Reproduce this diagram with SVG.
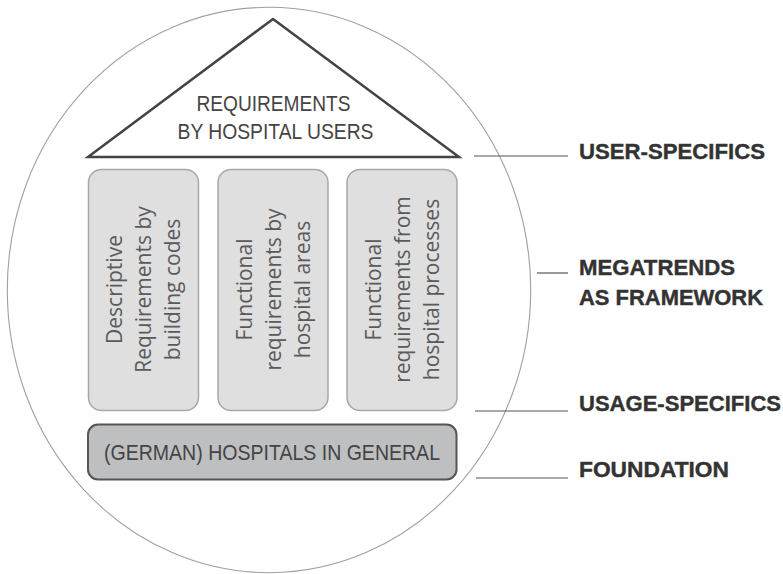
<svg xmlns="http://www.w3.org/2000/svg" width="783" height="574" viewBox="0 0 783 574">
<style>
.roof{fill:#fff;stroke:#444;stroke-width:2.5;stroke-linejoin:miter}
.col{fill:#dfdfe0;stroke:#a8a8a8;stroke-width:1.5}
.base{fill:#bebfc1;stroke:#555;stroke-width:2}
.t{font-family:"Liberation Sans",Arial,sans-serif;fill:#444;font-size:22px}
.v{font-family:"Open Sans","Noto Sans",sans-serif;font-weight:400;fill:#5a5a5a;font-size:21px;text-anchor:middle}
.lab{font-family:"Liberation Sans",Arial,sans-serif;font-weight:bold;fill:#333;font-size:21.5px;stroke:#333;stroke-width:0.4}
.ln{stroke:#555;stroke-width:1.2}
</style>
<ellipse id="frame" cx="269" cy="290" rx="261.7" ry="282.7" fill="none" stroke="#a0a0a0" stroke-width="1.1"/>
<g id="roof">
<polygon class="roof" points="273,19 459,157 88,157"/>
<text class="t" x="196.5" y="110.5" textLength="154" lengthAdjust="spacingAndGlyphs">REQUIREMENTS</text>
<text class="t" x="177.5" y="139" textLength="196" lengthAdjust="spacingAndGlyphs">BY HOSPITAL USERS</text>
</g>
<g id="pillar1">
<rect class="col" x="88.5" y="169.5" width="110" height="241" rx="13"/>
<text class="v" transform="translate(122,289.5) rotate(-90)">Descriptive</text>
<text class="v" transform="translate(151,289.5) rotate(-90)">Requirements by</text>
<text class="v" transform="translate(180,289.5) rotate(-90)">building codes</text>
</g>
<g id="pillar2">
<rect class="col" x="218" y="169.5" width="110" height="241" rx="13"/>
<text class="v" transform="translate(252,289.5) rotate(-90)">Functional</text>
<text class="v" transform="translate(281,289.5) rotate(-90)">requirements by</text>
<text class="v" transform="translate(310,289.5) rotate(-90)">hospital areas</text>
</g>
<g id="pillar3">
<rect class="col" x="347" y="169.5" width="110" height="241" rx="13"/>
<text class="v" transform="translate(381,289.5) rotate(-90)">Functional</text>
<text class="v" transform="translate(410,289.5) rotate(-90)">requirements from</text>
<text class="v" transform="translate(439,289.5) rotate(-90)">hospital processes</text>
</g>
<g id="foundation">
<rect class="base" x="88" y="424.5" width="368.5" height="55" rx="10"/>
<text class="t" x="104" y="460" font-size="22.5" textLength="336" lengthAdjust="spacingAndGlyphs">(GERMAN) HOSPITALS IN GENERAL</text>
</g>
<g id="connectors">
<line class="ln" x1="474" y1="156" x2="568" y2="156"/>
<line class="ln" x1="537" y1="273" x2="568" y2="273"/>
<line class="ln" x1="475" y1="411" x2="568" y2="411"/>
<line class="ln" x1="476" y1="478" x2="568" y2="478"/>
</g>
<g id="label-user">
<text class="lab" x="579" y="158.5" textLength="186" lengthAdjust="spacingAndGlyphs">USER-SPECIFICS</text>
</g>
<g id="label-megatrends">
<text class="lab" x="579" y="274.5" textLength="156" lengthAdjust="spacingAndGlyphs">MEGATRENDS</text>
<text class="lab" x="579" y="305" textLength="184" lengthAdjust="spacingAndGlyphs">AS FRAMEWORK</text>
</g>
<g id="label-usage">
<text class="lab" x="579" y="411" textLength="202" lengthAdjust="spacingAndGlyphs">USAGE-SPECIFICS</text>
</g>
<g id="label-foundation">
<text class="lab" x="579" y="477" textLength="150" lengthAdjust="spacingAndGlyphs">FOUNDATION</text>
</g>
</svg>
